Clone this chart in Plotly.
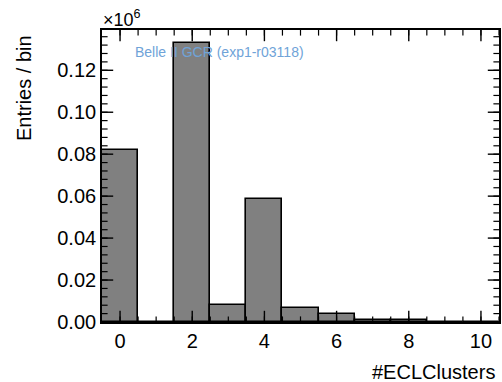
import numpy as np
import plotly.graph_objects as go

# Data (values in units of 10^6 entries)
n_clusters = [0, 1, 2, 3, 4, 5, 6, 7, 8, 9, 10]
entries = [0.0819, 0.0, 0.1331, 0.0079, 0.0584, 0.0068, 0.0040, 0.0009, 0.0009, 0.0, 0.0]

FONT = "Liberation Sans, Arial, Helvetica, sans-serif"
X_RANGE = [-0.5, 10.5]
Y_RANGE = [0, 0.1392]
X_DTICK, X_MINOR = 2, 0.5
Y_DTICK, Y_MINOR = 0.02, 0.004

W, H = 502, 382
ML, MR, MT, MB = 102, 3, 30, 60
MAJ, MIN = 8, 4

fig = go.Figure()
fig.add_trace(go.Bar(
    x=n_clusters, y=entries, width=1.0,
    marker=dict(color="#808080", line=dict(color="black", width=1.6)),
))

# ROOT-style inward ticks on all four sides: line markers centred on the
# frame edges, half of each clipped away by the plot area.
x_major = np.arange(0, X_RANGE[1] + 1e-9, X_DTICK)
x_minor = np.arange(0, X_RANGE[1] + 1e-9, X_MINOR)
y_major = np.arange(0, Y_RANGE[1] + 1e-12, Y_DTICK)
y_minor = np.arange(0, Y_RANGE[1] + 1e-12, Y_MINOR)

def tick_trace(xs, ys, symbol, length, width):
    return go.Scatter(
        x=xs, y=ys, mode="markers", cliponaxis=True, hoverinfo="skip",
        showlegend=False,
        marker=dict(symbol=symbol, size=2 * length, color="black",
                    line=dict(color="black", width=width)))

for yedge in Y_RANGE:
    fig.add_trace(tick_trace(x_minor, [yedge] * len(x_minor), "line-ns", MIN, 1.2))
    fig.add_trace(tick_trace(x_major, [yedge] * len(x_major), "line-ns", MAJ, 1.4))
for xedge in X_RANGE:
    fig.add_trace(tick_trace([xedge] * len(y_minor), y_minor, "line-ew", MIN, 1.2))
    fig.add_trace(tick_trace([xedge] * len(y_major), y_major, "line-ew", MAJ, 1.4))

common = dict(
    showline=True, linecolor="black", linewidth=1.6, mirror=True, ticks="",
    showgrid=False, zeroline=False, automargin=False,
    tickfont=dict(family=FONT, size=20, color="black"),
)

fig.update_layout(
    width=W, height=H,
    margin=dict(l=ML, r=MR, t=MT, b=MB, autoexpand=False),
    paper_bgcolor="white", plot_bgcolor="white",
    showlegend=False, bargap=0,
    xaxis=dict(range=X_RANGE, tickmode="linear", tick0=0, dtick=X_DTICK, **common),
    yaxis=dict(range=Y_RANGE, tickmode="linear", tick0=0, dtick=Y_DTICK,
               tickformat=".2f", **common),
    annotations=[
        dict(text="#ECLClusters", xref="paper", yref="paper", x=1.0, y=0,
             xanchor="right", yanchor="middle", xshift=-2, yshift=-50,
             showarrow=False, font=dict(family=FONT, size=20, color="black")),
        dict(text="Entries / bin", xref="paper", yref="paper", x=0, y=1,
             xanchor="center", yanchor="top", textangle=-90, xshift=-78, yshift=-3,
             showarrow=False, font=dict(family=FONT, size=20, color="black")),
        dict(text="×10<sup>6</sup>", xref="paper", yref="paper", x=0, y=1,
             xanchor="left", yanchor="bottom", xshift=-1, yshift=-2,
             showarrow=False, font=dict(family=FONT, size=18, color="black")),
        dict(text="Belle II GCR (exp1-r03118)", xref="paper", yref="paper",
             x=0, y=1, xanchor="left", yanchor="middle", xshift=31, yshift=-22,
             showarrow=False, font=dict(family=FONT, size=14, color="#6fa3d8")),
    ],
)

fig.write_html("out.html")
